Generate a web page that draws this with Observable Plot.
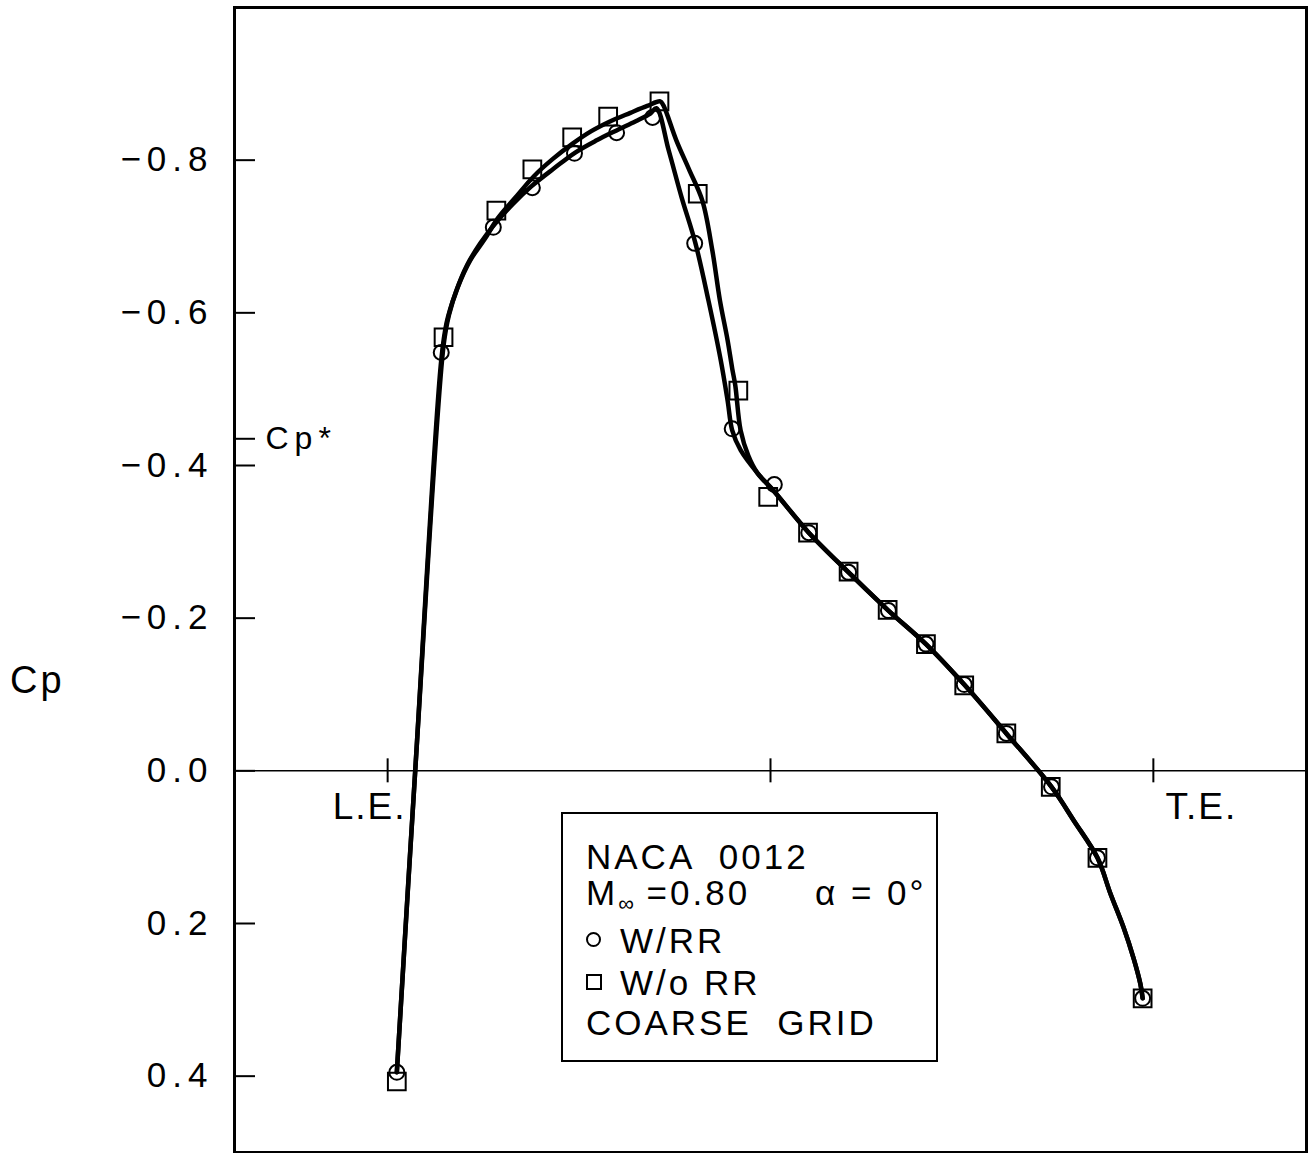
<!DOCTYPE html>
<html><head><meta charset="utf-8">
<script src="https://cdn.jsdelivr.net/npm/d3@7"></script>
<script src="https://cdn.jsdelivr.net/npm/@observablehq/plot@0.6"></script>
<style>
html,body{margin:0;padding:0;background:#fff;}
#wrap{position:relative;width:1308px;height:1153px;font-family:"Liberation Sans",Arial,sans-serif;color:#000;}
#wrap svg{position:absolute;left:0;top:0;}
.lbl{position:absolute;white-space:pre;line-height:1;}
g[aria-label="y-axis tick label"]{letter-spacing:6px;}
g[aria-label="text"]{letter-spacing:2px;}
#legend{position:absolute;left:561px;top:812px;width:373px;height:246px;border:2px solid #000;background:#fff;}
.leg{position:absolute;white-space:pre;line-height:1;font-size:35px;letter-spacing:3px;}
.sym-c{position:absolute;width:11px;height:11px;border:2px solid #000;border-radius:50%;}
.sym-s{position:absolute;width:12px;height:12px;border:2px solid #000;}
</style></head><body>
<div id="wrap"></div>
<script>
// Axis ticks and labels
const yTicks = [-0.8, -0.6, -0.4, -0.2, 0, 0.2, 0.4];
const cpStar = -0.435;
const xTicks = [0, 0.5, 1];
const edgeLabels = ["L.E.", "T.E."];
const edgePos = [0, 1];

// Symbols: W/RR (circles)
const wrrX  = [0.012, 0.070, 0.138, 0.189, 0.244, 0.299, 0.346, 0.401, 0.450, 0.505, 0.550, 0.602, 0.654, 0.703, 0.753, 0.808, 0.867, 0.927, 0.986];
const wrrCp = [0.395, -0.548, -0.712, -0.764, -0.809, -0.836, -0.856, -0.691, -0.448, -0.375, -0.312, -0.260, -0.210, -0.166, -0.113, -0.049, 0.021, 0.114, 0.298];

// Symbols: W/o RR (squares)
const worrX  = [0.012, 0.073, 0.142, 0.189, 0.241, 0.288, 0.355, 0.405, 0.458, 0.497, 0.549, 0.602, 0.653, 0.703, 0.753, 0.808, 0.866, 0.927, 0.986];
const worrCp = [0.407, -0.568, -0.734, -0.788, -0.830, -0.857, -0.877, -0.756, -0.498, -0.359, -0.312, -0.261, -0.211, -0.166, -0.112, -0.049, 0.021, 0.114, 0.298];

// Faired curve W/RR (front part)
const wrrLineX  = [0.012, 0.036, 0.070, 0.077, 0.089, 0.104, 0.121, 0.138, 0.163, 0.188, 0.217, 0.245, 0.273, 0.299, 0.324, 0.343, 0.351, 0.367, 0.384, 0.402, 0.419, 0.435, 0.444, 0.450, 0.461, 0.483];
const wrrLineCp = [0.395, 0.000, -0.538, -0.587, -0.627, -0.663, -0.691, -0.714, -0.742, -0.766, -0.789, -0.810, -0.826, -0.839, -0.851, -0.861, -0.868, -0.813, -0.751, -0.691, -0.616, -0.538, -0.485, -0.446, -0.420, -0.390];

// Faired curve W/o RR (front part)
const worrLineX  = [0.012, 0.036, 0.073, 0.080, 0.091, 0.108, 0.127, 0.144, 0.166, 0.191, 0.215, 0.242, 0.266, 0.291, 0.317, 0.339, 0.356, 0.360, 0.377, 0.394, 0.411, 0.424, 0.434, 0.444, 0.450, 0.454, 0.461, 0.471, 0.483];
const worrLineCp = [0.395, 0.000, -0.557, -0.597, -0.632, -0.669, -0.697, -0.724, -0.750, -0.779, -0.801, -0.822, -0.838, -0.851, -0.862, -0.871, -0.877, -0.872, -0.826, -0.787, -0.747, -0.682, -0.616, -0.564, -0.527, -0.505, -0.446, -0.413, -0.390];

// Shared aft part of both curves
const tailX  = [0.504, 0.550, 0.602, 0.654, 0.703, 0.753, 0.808, 0.867, 0.896, 0.927, 0.944, 0.961, 0.974, 0.983, 0.986];
const tailCp = [-0.367, -0.312, -0.260, -0.210, -0.166, -0.113, -0.049, 0.021, 0.065, 0.114, 0.161, 0.205, 0.245, 0.279, 0.298];

const xDomain = [-0.2, 1.2];
const yDomain = [-1.0, 0.5];

const toPts = (xs, ys) => xs.map((x, i) => ({x, cp: ys[i]}));
const wrr = toPts(wrrX, wrrCp);
const worr = toPts(worrX, worrCp);
const wrrLine = toPts(wrrLineX.concat(tailX), wrrLineCp.concat(tailCp));
const worrLine = toPts(worrLineX.concat(tailX), worrLineCp.concat(tailCp));

const fmt = d => (d < 0 ? "\u2212" : "") + Math.abs(d).toFixed(1);

const chart = Plot.plot({
  width: 1308,
  height: 1153,
  marginLeft: 234,
  marginRight: 2,
  marginTop: 7,
  marginBottom: 1,
  style: {fontFamily: '"Liberation Sans", Arial, sans-serif', background: "white", color: "black"},
  x: {domain: xDomain, axis: null},
  y: {domain: yDomain, reverse: true},
  marks: [
    Plot.ruleY([0], {strokeWidth: 1.5}),
    Plot.ruleX(xTicks, {x: d => d, y1: 0, y2: 0, insetTop: -12, insetBottom: -12, strokeWidth: 2}),
    Plot.axisY(yTicks, {label: null, tickSize: -21, tickPadding: 42, tickFormat: fmt, fontSize: 35, strokeWidth: 2}),
    Plot.axisY([cpStar], {label: null, tickSize: -21, tickPadding: -10, textAnchor: "start", tickFormat: () => "Cp*", fontSize: 32, strokeWidth: 2}),
    Plot.text([0], {x: d => edgePos[d], y: 0, text: d => edgeLabels[d], dx: -18, dy: 36, fontSize: 37}),
    Plot.text([1], {x: d => edgePos[d], y: 0, text: d => edgeLabels[d], dx: 48, dy: 36, fontSize: 37}),
    Plot.line(wrrLine, {x: "x", y: "cp", curve: "catmull-rom", strokeWidth: 4.5}),
    Plot.line(worrLine, {x: "x", y: "cp", curve: "catmull-rom", strokeWidth: 4.5}),
    Plot.dot(wrr, {x: "x", y: "cp", r: 7.5, stroke: "black", strokeWidth: 2, fill: "none"}),
    Plot.dot(worr, {x: "x", y: "cp", symbol: "square", r: 10, stroke: "black", strokeWidth: 2, fill: "none"}),
    Plot.frame({strokeWidth: 3})
  ]
});

const wrap = document.getElementById("wrap");
wrap.appendChild(chart);

// Y-axis title
const cp = document.createElement("div");
cp.className = "lbl";
cp.style.cssText = "left:10px;top:661px;font-size:38px;letter-spacing:3px;";
cp.textContent = "Cp";
wrap.appendChild(cp);

// Legend box
const legend = document.createElement("div");
legend.id = "legend";
wrap.appendChild(legend);
const addLeg = (html, left, top) => {
  const d = document.createElement("div");
  d.className = "leg";
  d.style.left = left + "px";
  d.style.top = top + "px";
  d.innerHTML = html;
  wrap.appendChild(d);
};
addLeg("NACA  0012", 586, 839);
addLeg('M<span style="font-size:22px;letter-spacing:0;position:relative;top:6px">\u221E</span> =0.80', 586, 875);
addLeg("\u03B1 = 0\u00B0", 815, 875);
addLeg("W/RR", 620, 923);
addLeg("W/o RR", 620, 965);
addLeg("COARSE  GRID", 586, 1005);
const sc = document.createElement("div");
sc.className = "sym-c";
sc.style.left = "586px"; sc.style.top = "932px";
wrap.appendChild(sc);
const ss = document.createElement("div");
ss.className = "sym-s";
ss.style.left = "586px"; ss.style.top = "974px";
wrap.appendChild(ss);
</script>
</body></html>
